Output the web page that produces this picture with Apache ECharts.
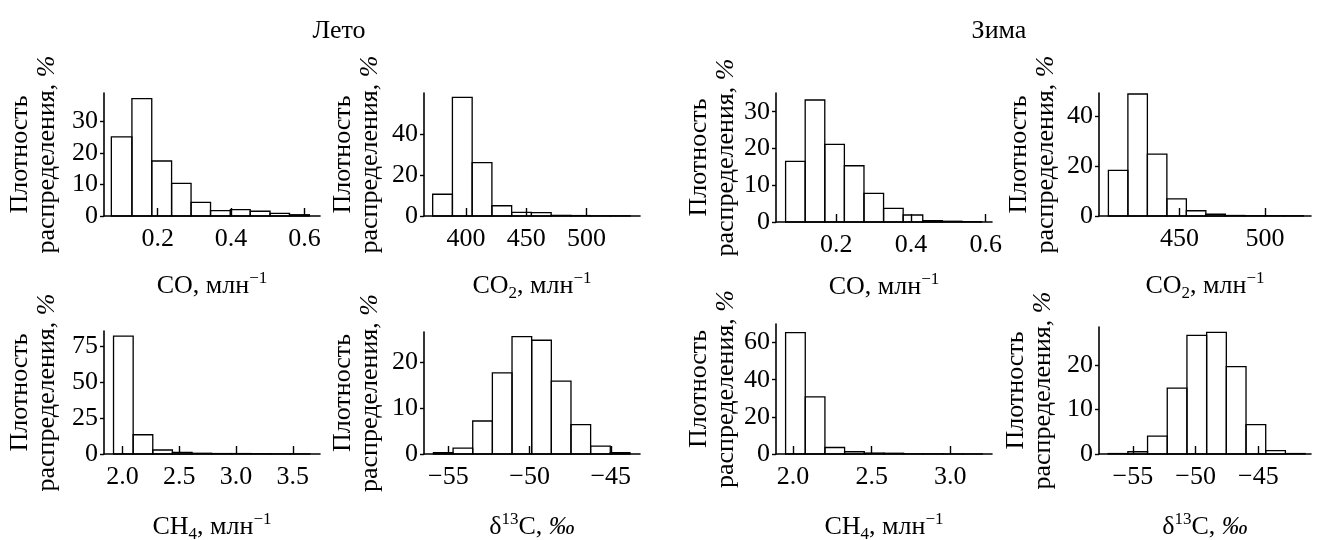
<!DOCTYPE html>
<html>
<head>
<meta charset="utf-8">
<script src="https://cdn.jsdelivr.net/npm/echarts@6/dist/echarts.min.js"></script>
<style>
html,body{margin:0;padding:0;background:#fff;}
#chart{width:1317px;height:540px;}
</style>
</head>
<body>
<div id="chart"></div>
<script>
// ---- data (bin edges and density, %) ----
const summerCO_edges = [0.074, 0.130, 0.184, 0.238, 0.291, 0.344, 0.398, 0.452, 0.506, 0.559, 0.613];
const summerCO_dens  = [25.0, 37.1, 17.4, 10.3, 4.3, 1.7, 2.0, 1.5, 0.8, 0.4];
const summerCO2_edges = [372.3, 388.7, 405.1, 421.5, 437.9, 454.3, 470.7, 487.1, 503.5, 519.9, 536.3];
const summerCO2_dens  = [10.6, 57.9, 26.0, 5.0, 1.8, 1.6, 0.3, 0.2, 0.1, 0.1];
const winterCO_edges = [0.064, 0.1165, 0.169, 0.2215, 0.274, 0.3265, 0.379, 0.4315, 0.484, 0.5365, 0.589];
const winterCO_dens  = [16.5, 33.2, 21.1, 15.3, 7.8, 3.7, 1.9, 0.4, 0.2, 0.1];
const winterCO2_edges = [408.4, 419.8, 431.2, 442.6, 454.0, 465.4, 476.8, 488.2, 499.6, 511.0, 522.4];
const winterCO2_dens  = [18.3, 48.9, 24.8, 6.9, 2.1, 0.7, 0.2, 0.1, 0.1, 0.1];
const summerCH4_edges = [1.92, 2.093, 2.266, 2.439, 2.612, 2.785, 2.958, 3.131, 3.304, 3.477, 3.65];
const summerCH4_dens  = [82.0, 13.4, 2.8, 1.1, 0.5, 0.3, 0.3, 0.2, 0.1, 0.1];
const summerD13C_edges = [-55.92, -54.71, -53.50, -52.29, -51.08, -49.87, -48.66, -47.45, -46.24, -45.03, -43.82];
const summerD13C_dens  = [0.3, 1.3, 7.2, 17.7, 25.6, 24.8, 15.9, 6.4, 1.7, 0.3];
const winterCH4_edges = [1.953, 2.078, 2.203, 2.328, 2.453, 2.578, 2.703, 2.828, 2.953, 3.078, 3.203];
const winterCH4_dens  = [65.4, 30.8, 3.5, 1.2, 0.5, 0.4, 0.1, 0.1, 0.05, 0.05];
const winterD13C_edges = [-56.97, -55.40, -53.83, -52.26, -50.69, -49.12, -47.55, -45.98, -44.41, -42.84, -41.27];
const winterD13C_dens  = [0.1, 0.5, 4.0, 14.8, 26.6, 27.3, 19.6, 6.6, 0.75, 0.1];

// tick labels
const xTicksCO = [0.2, 0.4, 0.6];
const xTicksSummerCO2 = [400, 450, 500];
const xTicksWinterCO2 = [450, 500];
const xTicksSummerCH4 = [2.0, 2.5, 3.0, 3.5];
const xTicksWinterCH4 = [2.0, 2.5, 3.0];
const xTicksD13C = [-55, -50, -45];
const yTicks1 = [0, 10, 20, 30];
const yTicks2 = [0, 20, 40];
const yTicks3 = [0, 25, 50, 75];
const yTicks4 = [0, 10, 20];
const yTicks5 = [0, 20, 40, 60];

const titles = ['Лето', 'Зима'];
const yName = 'Плотность\nраспределения, {it|%}';
const xNameCO = 'CO, млн{sup|−1}';
const xNameCO2 = 'CO{sub|2}, млн{sup|−1}';
const xNameCH4 = 'CH{sub|4}, млн{sup|−1}';
const xNameD13C = 'δ{sup|13}C, {it|‰}';

// ---- layout ----
const FONT = 'Liberation Serif';
const FS = 26;
const panels = [
  {e: summerCO_edges, d: summerCO_dens, grid:{left:104, top:93, width:216, height:123}, xmin:0.054, xmax:0.642, ymax:38.9, xt:xTicksCO, yt:yTicks1, dec:1, xname:xNameCO, ygap:43, xgap:54},
  {e: summerCO2_edges, d: summerCO2_dens, grid:{left:424, top:93, width:216, height:123}, xmin:365.1, xmax:544.5, ymax:60, xt:xTicksSummerCO2, yt:yTicks2, dec:0, xname:xNameCO2, ygap:40, xgap:54},
  {e: winterCO_edges, d: winterCO_dens, grid:{left:776, top:93, width:216, height:129}, xmin:0.0383, xmax:0.617, ymax:35.1, xt:xTicksCO, yt:yTicks1, dec:1, xname:xNameCO, ygap:34, xgap:49},
  {e: winterCO2_edges, d: winterCO2_dens, grid:{left:1099, top:93, width:212, height:123}, xmin:402.9, xmax:526.9, ymax:49.3, xt:xTicksWinterCO2, yt:yTicks2, dec:0, xname:xNameCO2, ygap:39, xgap:54},
  {e: summerCH4_edges, d: summerCH4_dens, grid:{left:104, top:331, width:216, height:123}, xmin:1.836, xmax:3.74, ymax:85.6, xt:xTicksSummerCH4, yt:yTicks3, dec:1, xname:xNameCH4, ygap:43, xgap:57},
  {e: summerD13C_edges, d: summerD13C_dens, grid:{left:424, top:332, width:216, height:122}, xmin:-56.5, xmax:-43.2, ymax:26.6, xt:xTicksD13C, yt:yTicks4, dec:0, xname:xNameD13C, ygap:40, xgap:57},
  {e: winterCH4_edges, d: winterCH4_dens, grid:{left:776, top:324, width:216, height:130}, xmin:1.892, xmax:3.265, ymax:70, xt:xTicksWinterCH4, yt:yTicks5, dec:1, xname:xNameCH4, ygap:35, xgap:57},
  {e: winterD13C_edges, d: winterD13C_dens, grid:{left:1099, top:327, width:212, height:127}, xmin:-57.7, xmax:-40.8, ymax:28.5, xt:xTicksD13C, yt:yTicks4, dec:0, xname:xNameD13C, ygap:42, xgap:57}
];

const axisLine = {show:true, lineStyle:{color:'#000', width:1.6}};
const grids = [], xAxes = [], yAxes = [], series = [];
panels.forEach((p, i) => {
  grids.push(Object.assign({containLabel:false, outerBoundsMode:'none'}, p.grid));
  xAxes.push({
    type:'value', gridIndex:i, min:p.xmin, max:p.xmax,
    axisLine: axisLine,
    axisTick:{show:true, inside:true, length:8, lineStyle:{color:'#000', width:1.4}, customValues:p.xt},
    axisLabel:{show:true, margin:10, color:'#000', fontFamily:FONT, fontSize:FS, customValues:p.xt,
      formatter: v => Number(v).toFixed(p.dec).replace('-', '\u2212')},
    splitLine:{show:false},
    name:p.xname, nameLocation:'middle', nameGap:p.xgap,
    nameTextStyle:{color:'#000', fontFamily:FONT, fontSize:FS, lineHeight:32,
      rich:{
        sup:{fontFamily:FONT, fontSize:17, lineHeight:17, verticalAlign:'top', color:'#000'},
        sub:{fontFamily:FONT, fontSize:17, lineHeight:15, verticalAlign:'bottom', color:'#000'},
        it:{fontFamily:FONT, fontSize:FS, fontStyle:'italic', color:'#000'}
      }}
  });
  yAxes.push({
    type:'value', gridIndex:i, min:0, max:p.ymax,
    axisLine: axisLine,
    axisTick:{show:true, inside:false, length:4, lineStyle:{color:'#000', width:1.4}, customValues:p.yt},
    axisLabel:{show:true, margin:6, color:'#000', fontFamily:FONT, fontSize:FS, customValues:p.yt},
    splitLine:{show:false},
    name:yName, nameLocation:'middle', nameGap:p.ygap, nameRotate:90,
    nameTextStyle:{color:'#000', fontFamily:FONT, fontSize:FS, lineHeight:27, align:'center',
      rich:{it:{fontFamily:FONT, fontSize:FS, fontStyle:'italic', lineHeight:27, color:'#000'}}}
  });
  const data = p.d.map((v, k) => [p.e[k], p.e[k+1], v]);
  series.push({
    type:'custom', xAxisIndex:i, yAxisIndex:i, data:data, silent:true,
    encode:{x:[0,1], y:2},
    renderItem:function(params, api){
      const a = api.coord([api.value(0), 0]);
      const b = api.coord([api.value(1), api.value(2)]);
      return {type:'rect', shape:{x:a[0], y:b[1], width:b[0]-a[0], height:a[1]-b[1]},
        style:{fill:'none', stroke:'#000', lineWidth:1.3}};
    }
  });
});

const chart = echarts.init(document.getElementById('chart'), null, {renderer:'canvas'});
chart.setOption({
  backgroundColor:'#fff',
  animation:false,
  title:[
    {text:titles[0], left:334, top:13, textAlign:'center', textStyle:{fontFamily:FONT, fontSize:FS, fontWeight:'normal', color:'#000'}},
    {text:titles[1], left:994, top:13, textAlign:'center', textStyle:{fontFamily:FONT, fontSize:FS, fontWeight:'normal', color:'#000'}}
  ],
  grid:grids, xAxis:xAxes, yAxis:yAxes, series:series
});
</script>
</body>
</html>
